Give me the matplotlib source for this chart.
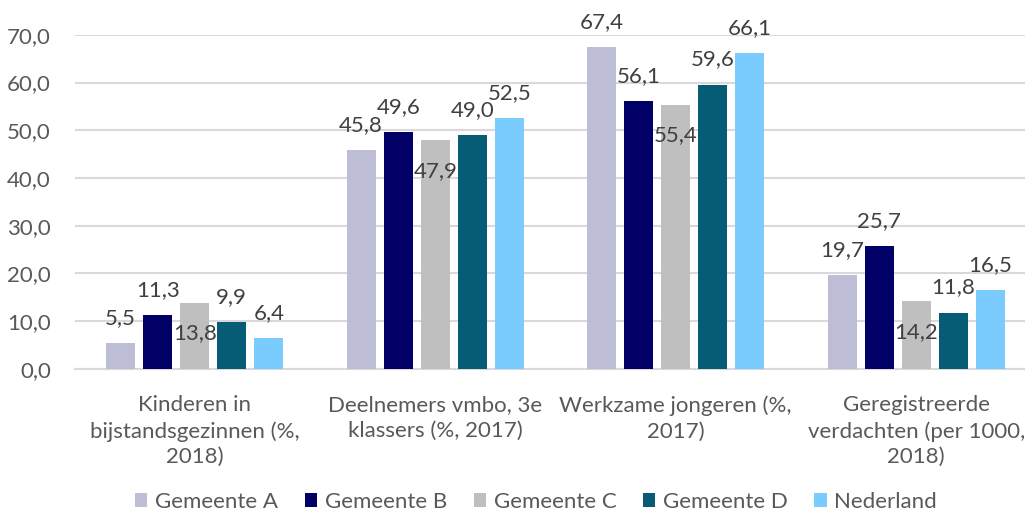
import numpy as np
import matplotlib
matplotlib.use("Agg")
import matplotlib.pyplot as plt
from matplotlib.patches import Patch

plt.rcParams['font.family'] = ['Lato', 'DejaVu Sans']

categories = ["Kinderen in\nbijstandsgezinnen (%,\n2018)",
              "Deelnemers vmbo, 3e\nklassers (%, 2017)",
              "Werkzame jongeren (%,\n2017)",
              "Geregistreerde\nverdachten (per 1000,\n2018)"]
series = ["Gemeente A", "Gemeente B", "Gemeente C", "Gemeente D", "Nederland"]
gemeente_a = [5.5, 45.8, 67.4, 19.7]
gemeente_b = [11.3, 49.6, 56.1, 25.7]
gemeente_c = [13.8, 47.9, 55.4, 14.2]
gemeente_d = [9.9, 49.0, 59.6, 11.8]
nederland = [6.4, 52.5, 66.1, 16.5]
values = [gemeente_a, gemeente_b, gemeente_c, gemeente_d, nederland]
colors = ["#BDBDD5", "#000066", "#BFBFBF", "#055C74", "#7ACCFF"]

txt = "#404040"
fig = plt.figure(figsize=(10.25, 5.13), dpi=100)
ax = fig.add_axes([0.0727, 0.281, 0.9385, 0.651])

x = np.arange(len(categories))
step = 0.154
width = 0.12
fs = 16
for i in range(len(series)):
    pos = x + (i - 2) * step
    bars = ax.bar(pos, values[i], width, color=colors[i], label=series[i], zorder=3)
    for rect, v in zip(bars, values[i]):
        lab = ('%.1f' % v).replace('.', ',')
        # Gemeente C labels sit inside the bar in the original
        off = -22 if i == 2 else 18
        ax.annotate(lab, (rect.get_x() + rect.get_width() / 2, v),
                    xytext=(0, off), textcoords='offset points',
                    ha='center', va='center', fontsize=fs, color=txt,
                    annotation_clip=False, zorder=4)

ax.set_xlim(-0.5, 3.5)
ax.set_ylim(0, 70)
ax.set_yticks(np.arange(0, 71, 10))
ax.set_yticklabels([('%.1f' % t).replace('.', ',') for t in np.arange(0, 71, 10)])
ax.set_xticks(x)
ax.set_xticklabels(categories, linespacing=1.35)
ax.tick_params(axis='y', length=0, pad=17, labelsize=fs, labelcolor="#595959")
ax.tick_params(axis='x', length=0, pad=19, labelsize=fs, labelcolor="#595959")
ax.grid(axis='y', color="#D9D9D9", linewidth=1.5, zorder=0)
for s in ['top', 'right', 'left']:
    ax.spines[s].set_visible(False)
ax.spines['bottom'].set_color("#D9D9D9")
ax.spines['bottom'].set_linewidth(1.5)

handles = [Patch(facecolor=c, label=s) for c, s in zip(colors, series)]
leg = fig.legend(handles=handles, loc='center', bbox_to_anchor=(0.523, 0.022), ncol=5,
                 frameon=False, fontsize=fs, handlelength=0.55, handleheight=0.55,
                 handletextpad=0.35, columnspacing=1.2)
for t in leg.get_texts():
    t.set_color("#595959")

fig.savefig("out.png", dpi=100)
